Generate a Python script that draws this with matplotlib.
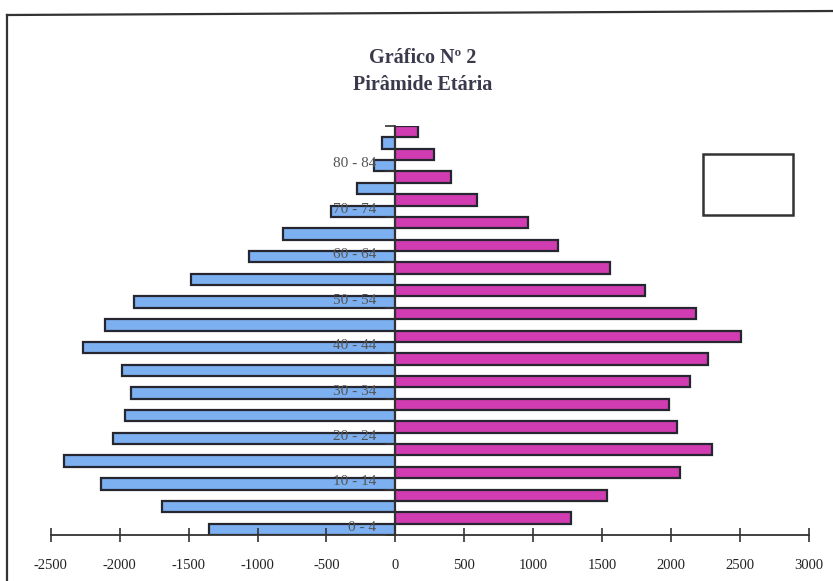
import matplotlib
matplotlib.use('Agg')
import matplotlib.pyplot as plt
from matplotlib.lines import Line2D
from matplotlib.patches import Rectangle

plt.rcParams['font.family'] = ['Liberation Serif', 'DejaVu Serif']
plt.rcParams['axes.unicode_minus'] = False

# age groups, bottom to top
age_groups = ['0 - 4', '5 - 9', '10 - 14', '15 - 19', '20 - 24', '25 - 29',
              '30 - 34', '35 - 39', '40 - 44', '45 - 49', '50 - 54', '55 - 59',
              '60 - 64', '65 - 69', '70 - 74', '75 - 79', '80 - 84', '85 - 89']
homens = [1350, 1690, 2135, 2400, 2045, 1960, 1915, 1980, 2265, 2105,
          1895, 1480, 1060, 812, 465, 276, 153, 95]
mulheres = [1277, 1538, 2061, 2293, 2046, 1981, 2134, 2264, 2504, 2177,
            1807, 1560, 1183, 965, 595, 406, 283, 167]
x_ticks = [-2500, -2000, -1500, -1000, -500, 0, 500, 1000, 1500, 2000, 2500, 3000]

W, H = 833, 581
fig = plt.figure(figsize=(W / 100, H / 100), dpi=100)
ax = fig.add_axes([50.7 / W, 1 - 535 / H, (809 - 50.7) / W, 409 / H])

pos = list(range(len(age_groups)))
edge = '#262630'
ax.barh([p + 0.25 for p in pos], [-v for v in homens], height=0.5, align='center',
        color='#7db0f0', edgecolor=edge, linewidth=1.6)
ax.barh([p + 0.75 for p in pos], mulheres, height=0.5, align='center',
        color='#d23cb2', edgecolor=edge, linewidth=1.6)

ax.set_xlim(-2500, 3000)
ax.set_ylim(0, len(age_groups))

for s in ['top', 'right']:
    ax.spines[s].set_visible(False)
ax.spines['left'].set_position(('data', 0))
for s in ['left', 'bottom']:
    ax.spines[s].set_color('#333333')
    ax.spines[s].set_linewidth(1.3)

ax.set_xticks(x_ticks)
ax.set_xticklabels([str(t) for t in x_ticks])
ax.tick_params(axis='x', direction='inout', length=10, width=1.2, color='#333333',
               pad=12, labelsize=10.5, labelcolor='#222222')

# ticks on category boundaries, labels every other age group
ax.set_yticks(list(range(0, len(age_groups) + 1, 2)))
ax.set_yticklabels([])
ax.set_yticks([p + 0.4 for p in pos[::2]], minor=True)
ax.set_yticklabels(age_groups[::2], minor=True)
ax.tick_params(axis='y', which='major', direction='out', length=7, width=1.2,
               color='#333333')
ax.tick_params(axis='y', which='minor', length=0, pad=14, labelsize=11,
               labelcolor='#555555')

# titles
fig.text(423 / W, 1 - 58 / H, 'Gráfico Nº 2', ha='center', va='center',
         fontsize=14.5, fontweight='bold', color='#3a3a4c')
fig.text(423 / W, 1 - 85 / H, 'Pirâmide Etária', ha='center', va='center',
         fontsize=14.5, fontweight='bold', color='#3a3a4c')

# empty legend box and page frame
fig.add_artist(Rectangle((703 / W, 1 - 215 / H), 90 / W, 61 / H, fill=False,
                         edgecolor='#333333', linewidth=1.8,
                         transform=fig.transFigure))
fig.add_artist(Line2D([7 / W, 7 / W], [0, 1 - 15 / H], color='#333333',
                      linewidth=1.6, transform=fig.transFigure))
fig.add_artist(Line2D([7 / W, 1], [1 - 15 / H, 1 - 11 / H], color='#333333',
                      linewidth=1.6, transform=fig.transFigure))

fig.savefig('out.png', dpi=100)
